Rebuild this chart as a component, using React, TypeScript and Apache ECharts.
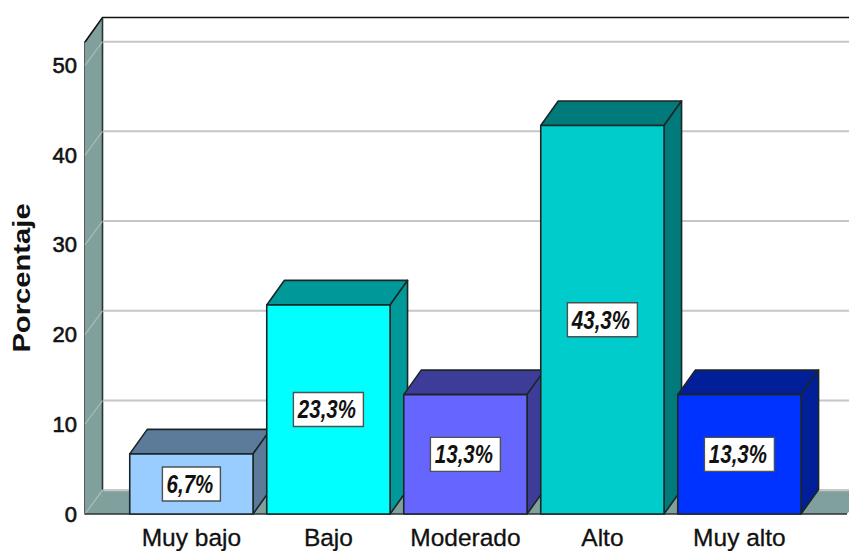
import React, { useEffect, useRef } from "react";
import * as echarts from "echarts";

const categories = ["Muy bajo", "Bajo", "Moderado", "Alto", "Muy alto"];
const percentages = [6.7, 23.3, 13.3, 43.3, 13.3];
const valueLabels = ["6,7%", "23,3%", "13,3%", "43,3%", "13,3%"];
const frontColors = ["#99ccff", "#00ffff", "#6666ff", "#00cccc", "#0033ff"];
const sideColors = ["#5c7a99", "#009999", "#3d3d99", "#007a7a", "#001f99"];
const yTicks = [0, 10, 20, 30, 40, 50];

const AXIS_MAX = 52.6;
const AXIS_X = 85;
const RIGHT_X = 849;
const DX = 17.5;
const DY = 24.5;
const GRID_DY = 23.7;
const EDGE = "#1c2626";
const FONT = '"Liberation Sans", Arial, sans-serif';

export default function App() {
  const ref = useRef<HTMLDivElement>(null);
  useEffect(() => {
    document.body.style.margin = "0";
    const chart = echarts.init(ref.current!, null, { renderer: "svg" });

    const wallItem = (_: any, api: any) => {
      const y0 = api.coord([0, 0])[1];
      const yTop = api.coord([0, AXIS_MAX])[1];
      return {
        type: "group",
        children: [
          {
            type: "polygon",
            shape: { points: [[AXIS_X, y0], [AXIS_X + DX, y0 - DY], [AXIS_X + DX, yTop - DY], [AXIS_X, yTop]] },
            style: { fill: "#7fa09c" },
          },
          {
            type: "polygon",
            shape: { points: [[AXIS_X, y0], [AXIS_X + DX, y0 - DY], [RIGHT_X + DX, y0 - DY], [RIGHT_X - 2, y0]] },
            style: { fill: "#7fa09c" },
          },
          {
            type: "polyline",
            shape: { points: [[AXIS_X, yTop], [AXIS_X + DX, yTop - DY], [RIGHT_X, yTop - DY]] },
            style: { stroke: "#111", lineWidth: 1.6, fill: "none" },
          },
          {
            type: "line",
            shape: { x1: AXIS_X + DX, y1: yTop - DY, x2: AXIS_X + DX, y2: y0 - DY },
            style: { stroke: "#2a3333", lineWidth: 1.6 },
          },
        ],
      };
    };

    const gridItem = (_: any, api: any) => {
      const y = api.coord([0, api.value(1)])[1];
      return {
        type: "group",
        children: [
          {
            type: "line",
            shape: { x1: AXIS_X, y1: y, x2: AXIS_X + DX, y2: y - GRID_DY },
            style: { stroke: "#aebab8", lineWidth: 1.2 },
          },
          {
            type: "line",
            shape: { x1: AXIS_X + DX + 1, y1: y - GRID_DY, x2: RIGHT_X, y2: y - GRID_DY },
            style: { stroke: "#c6c6c6", lineWidth: 2 },
          },
        ],
      };
    };

    const baselineItem = (_: any, api: any) => {
      const y0 = api.coord([0, 0])[1];
      return {
        type: "line",
        shape: { x1: AXIS_X, y1: y0, x2: RIGHT_X - 2, y2: y0 },
        style: { stroke: "#2a3333", lineWidth: 1.6 },
      };
    };

    const barItem = (_: any, api: any) => {
      const i = api.value(0);
      const v = api.value(1);
      const c = api.coord([i, v]);
      const y0 = api.coord([i, 0])[1];
      const w = api.size([1, 0])[0] * 0.9;
      const l = c[0] - w / 2;
      const r = c[0] + w / 2;
      const t = c[1];
      const edge = { stroke: EDGE, lineWidth: 1.6, lineJoin: "round" };
      const text = valueLabels[i];
      const boxW = text.length === 4 ? 58 : 70;
      const boxH = 34;
      const my = (t + y0) / 2;
      return {
        type: "group",
        children: [
          {
            type: "polygon",
            shape: { points: [[l, t], [l + DX, t - DY], [r + DX, t - DY], [r, t]] },
            style: { fill: sideColors[i], ...edge },
          },
          {
            type: "polygon",
            shape: { points: [[r, t], [r + DX, t - DY], [r + DX, y0 - DY], [r, y0]] },
            style: { fill: sideColors[i], ...edge },
          },
          {
            type: "rect",
            shape: { x: l, y: t, width: w, height: y0 - t },
            style: { fill: frontColors[i], ...edge },
          },
          {
            type: "rect",
            shape: { x: c[0] - boxW / 2, y: my - boxH / 2, width: boxW, height: boxH },
            style: { fill: "#ffffff", stroke: "#4a5252", lineWidth: 1.4 },
          },
          {
            type: "text",
            x: c[0] - 1.5,
            y: my,
            scaleY: 1.25,
            style: {
              text,
              align: "center",
              verticalAlign: "middle",
              fill: "#111",
              font: `italic bold 20.5px ${FONT}`,
            },
          },
        ],
      };
    };

    chart.setOption({
      animation: false,
      backgroundColor: "#ffffff",
      grid: { left: 122.9, width: 685, top: 42, height: 472, containLabel: false },
      xAxis: {
        type: "category",
        data: categories,
        axisLine: { show: false },
        axisTick: { show: false },
        axisLabel: {
          fontFamily: FONT,
          fontSize: 24.5,
          color: "#111",
          margin: 11,
          interval: 0,
          textBorderColor: "#111",
          textBorderWidth: 0.3,
        },
      },
      yAxis: {
        type: "value",
        min: 0,
        max: AXIS_MAX,
        interval: 10,
        offset: 37.9,
        splitLine: { show: false },
        axisTick: { show: false },
        axisLine: { show: true, lineStyle: { color: "#2a3333", width: 1.6 } },
        axisLabel: {
          fontFamily: FONT,
          fontSize: 22,
          color: "#111",
          margin: 8,
          textBorderColor: "#111",
          textBorderWidth: 0.6,
          showMaxLabel: false,
          formatter: (v: number) => (yTicks.includes(v) ? String(v) : ""),
        },
      },
      graphic: [
        {
          type: "text",
          x: 22,
          y: 278,
          rotation: Math.PI / 2,
          scaleX: 1.27,
          style: {
            text: "Porcentaje",
            align: "center",
            verticalAlign: "middle",
            fill: "#111",
            font: `bold 23px ${FONT}`,
          },
        },
      ],
      series: [
        { type: "custom", silent: true, clip: false, z: 1, renderItem: wallItem, encode: { x: 0, y: 1 }, data: [[0, 0]] },
        { type: "custom", silent: true, clip: false, z: 2, renderItem: gridItem, encode: { x: 0, y: 1 }, data: yTicks.map((t) => [0, t]) },
        { type: "custom", silent: true, clip: false, z: 3, renderItem: baselineItem, encode: { x: 0, y: 1 }, data: [[0, 0]] },
        { type: "custom", silent: true, clip: false, z: 4, renderItem: barItem, encode: { x: 0, y: 1 }, data: percentages.map((v, i) => [i, v]) },
      ],
    });
    return () => chart.dispose();
  }, []);
  return <div ref={ref} style={{ width: 849, height: 551 }} />;
}
